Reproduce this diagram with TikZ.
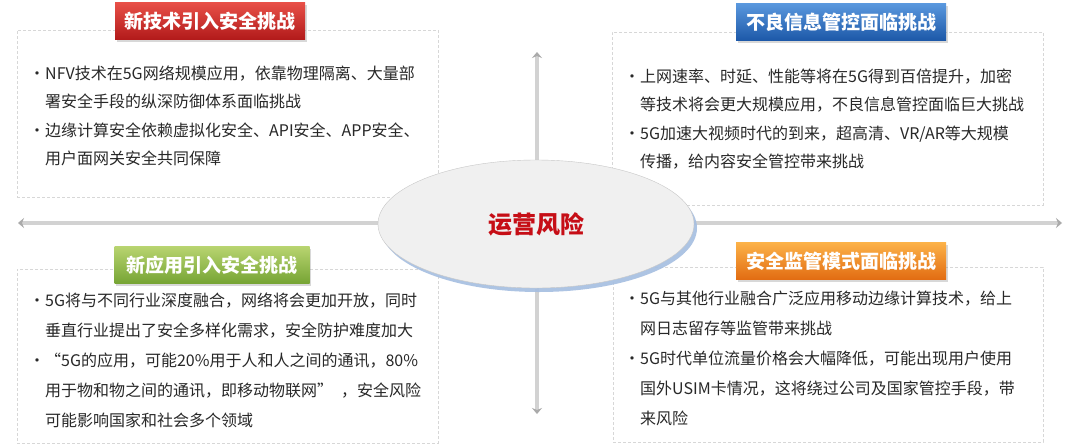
\documentclass[tikz,border=0pt]{standalone}
\usepackage{fontspec}
\setmainfont{Noto Sans CJK SC}
\usepackage{array}
\usetikzlibrary{arrows.meta, shapes.geometric, shadows, positioning}
\definecolor{textgray}{RGB}{40,40,40}
\definecolor{panelline}{RGB}{215,215,215}
\definecolor{axisgray}{RGB}{210,210,210}
\definecolor{tipgray}{RGB}{170,170,170}
\definecolor{riskred}{RGB}{198,14,22}
\definecolor{ovalshadow}{RGB}{165,190,225}
\definecolor{redtop}{RGB}{232,80,72}
\definecolor{redbot}{RGB}{178,26,26}
\definecolor{bluetop}{RGB}{90,152,222}
\definecolor{bluebot}{RGB}{28,88,168}
\definecolor{greentop}{RGB}{184,212,112}
\definecolor{greenbot}{RGB}{118,164,52}
\definecolor{orangetop}{RGB}{252,178,72}
\definecolor{orangebot}{RGB}{226,108,18}
\newcommand{\bul}{•}

\begin{document}
\begin{tikzpicture}[x=1pt, y=-1pt,
  panel/.style={draw=panelline, densely dashed, fill=white, inner sep=0pt},
  banner/.style 2 args={top color=#1, bottom color=#2, inner sep=0pt, minimum height=37pt,
    text=white, font=\fontsize{19}{19}\selectfont\bfseries,
    drop shadow={shadow xshift=1.5pt, shadow yshift=-2pt, opacity=0.3}},
  itemtext/.style={anchor=north west, inner sep=0pt, text=textgray, font=\fontsize{16}{#1}\selectfont},
  axisarrow/.style={draw=axisgray, line width=4.5pt,
    {Stealth[length=6pt, width=10pt, inset=2pt, color=tipgray]}-{Stealth[length=6pt, width=10pt, inset=2pt, color=tipgray]}}]
\useasboundingbox (0,0) rectangle (1080,445);
\fill[white] (0,0) rectangle (1080,445);

% panels
\node[panel, minimum width=421pt, minimum height=167pt] (techpanel) at (227.5,113.5) {};
\node[panel, minimum width=431pt, minimum height=173pt] (infopanel) at (827.5,118.5) {};
\node[panel, minimum width=421pt, minimum height=174pt] (apppanel) at (227.5,356) {};
\node[panel, minimum width=430pt, minimum height=175pt] (regpanel) at (828,354.5) {};

% axes
\coordinate (leftend) at (18,223);
\coordinate (rightend) at (1062,223);
\coordinate (topend) at (537,52);
\coordinate (bottomend) at (537,414);
\draw[axisarrow] (leftend) -- (rightend);
\draw[axisarrow] (topend) -- (bottomend);

% center
\node[ellipse, draw=black!22, fill=black!6, minimum width=316pt, minimum height=128pt,
  drop shadow={fill=ovalshadow, shadow xshift=3pt, shadow yshift=-4pt, opacity=0.9},
  text=riskred, font=\fontsize{24}{24}\selectfont\bfseries] (risk) at (536,224) {运营风险};

% titles
\node[banner={redtop}{redbot}, minimum width=190pt] (techtitle) at (210,21) {新技术引入安全挑战};
\node[banner={bluetop}{bluebot}, minimum width=210pt] (infotitle) at (841,22) {不良信息管控面临挑战};
\node[banner={greentop}{greenbot}, minimum width=195pt] (apptitle) at (212,265) {新应用引入安全挑战};
\node[banner={orangetop}{orangebot}, minimum width=210pt] (regtitle) at (841,261) {安全监管模式面临挑战};

% texts
\node[itemtext=28.5] (techtext) at (29,59) {\begin{tabular}{@{}p{16pt}@{}l@{}}
\bul & NFV技术在5G网络规模应用，依靠物理隔离、大量部\\
 & 署安全手段的纵深防御体系面临挑战\\
\bul & 边缘计算安全依赖虚拟化安全、API安全、APP安全、\\
 & 用户面网关安全共同保障
\end{tabular}};
\node[itemtext=28.5] (infotext) at (624,62) {\begin{tabular}{@{}p{16pt}@{}l@{}}
\bul & 上网速率、时延、性能等将在5G得到百倍提升，加密\\
 & 等技术将会更大规模应用，不良信息管控面临巨大挑战\\
\bul & 5G加速大视频时代的到来，超高清、VR/AR等大规模\\
 & 传播，给内容安全管控带来挑战
\end{tabular}};
\node[itemtext=30] (apptext) at (29,285) {\begin{tabular}{@{}p{16pt}@{}l@{}}
\bul & 5G将与不同行业深度融合，网络将会更加开放，同时\\
 & 垂直行业提出了安全多样化需求，安全防护难度加大\\
\bul & “5G的应用，可能20\%用于人和人之间的通讯，80\%\\
 & 用于物和物之间的通讯，即移动物联网”\hspace{8pt}，安全风险\\
 & 可能影响国家和社会多个领域
\end{tabular}};
\node[itemtext=30] (regtext) at (624,283) {\begin{tabular}{@{}p{16pt}@{}l@{}}
\bul & 5G与其他行业融合广泛应用移动边缘计算技术，给上\\
 & 网日志留存等监管带来挑战\\
\bul & 5G时代单位流量价格会大幅降低，可能出现用户使用\\
 & 国外USIM卡情况，这将绕过公司及国家管控手段，带\\
 & 来风险
\end{tabular}};
\end{tikzpicture}
\end{document}
